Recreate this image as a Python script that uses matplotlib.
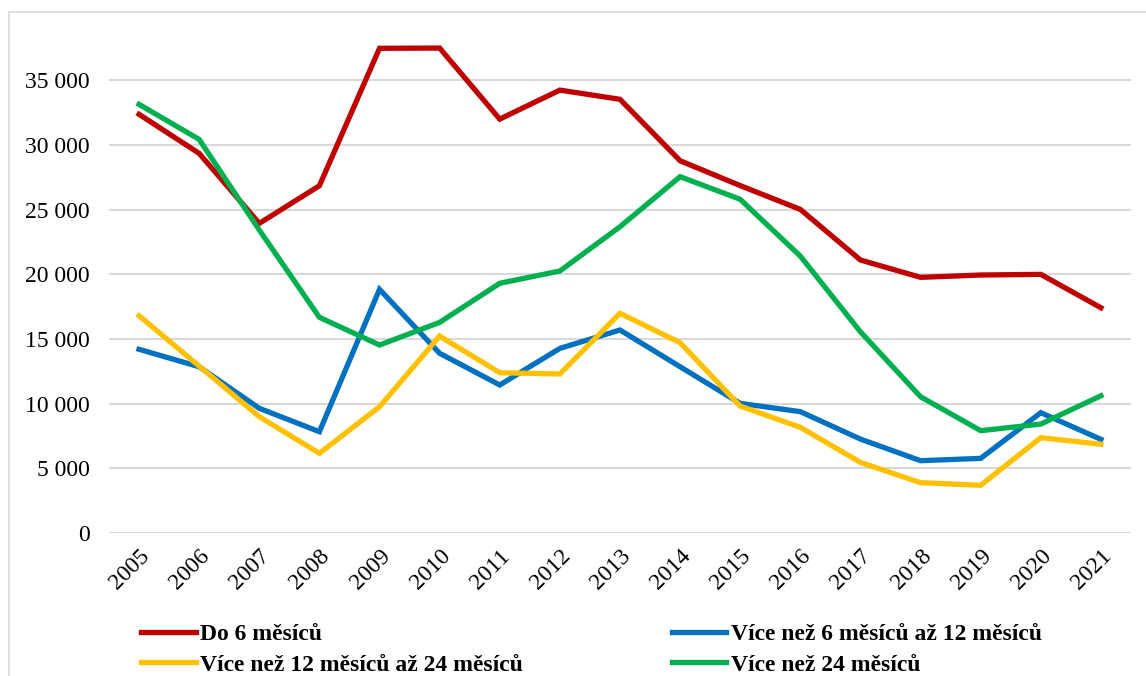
import matplotlib
matplotlib.use('Agg')
import matplotlib.pyplot as plt
from matplotlib.ticker import FuncFormatter
from matplotlib.patches import Rectangle
from matplotlib.transforms import ScaledTranslation

plt.rcParams['font.family'] = ['Liberation Serif', 'DejaVu Serif']

years = [str(y) for y in range(2005, 2022)]

do_6 = [32360, 29340, 23930, 26840, 37460, 37480, 31990, 34230, 33520,
        28770, 26850, 25010, 21100, 19760, 19940, 19990, 17410]
od_6_do_12 = [14200, 12850, 9640, 7830, 18830, 13890, 11440, 14270, 15690,
              12850, 10020, 9380, 7260, 5590, 5770, 9300, 7240]
od_12_do_24 = [16790, 12900, 8990, 6160, 9760, 15220, 12390, 12290, 16980,
               14710, 9810, 8170, 5460, 3890, 3690, 7370, 6860]
nad_24 = [33130, 30420, 23420, 16670, 14530, 16280, 19300, 20250, 23670,
          27540, 25790, 21400, 15550, 10530, 7910, 8420, 10610]

labels = ['Do 6 měsíců', 'Více než 6 měsíců až 12 měsíců',
          'Více než 12 měsíců až 24 měsíců', 'Více než 24 měsíců']
colors = ['#C00000', '#0070C0', '#FFC000', '#00B050']

fig = plt.figure(figsize=(11.46, 6.76), dpi=100)
ax = fig.add_axes([0.0951, 0.2115, 0.8918, 0.7465])

# light frame around the chart
fig.patches.append(Rectangle((0.0079, -0.1), 1.1, 1.0822, transform=fig.transFigure,
                             fill=False, edgecolor='#d9d9d9', linewidth=1.2))

x = range(len(years))
for series, lab, col in zip([do_6, od_6_do_12, od_12_do_24, nad_24], labels, colors):
    ax.plot(x, series, color=col, linewidth=3.8, label=lab, solid_joinstyle='miter')

ax.set_xlim(-0.5, len(years) - 0.5)
ax.set_ylim(0, 39000)
ax.set_yticks(range(0, 35001, 5000))
ax.yaxis.set_major_formatter(FuncFormatter(lambda v, p: f'{v:,.0f}'.replace(',', ' ')))
ax.set_xticks(list(x))
ax.set_xticklabels(years, rotation=45, ha='right', rotation_mode='anchor')
shift = ScaledTranslation(-7 / 72, 0, fig.dpi_scale_trans)
for t in ax.get_xticklabels():
    t.set_transform(t.get_transform() + shift)

ax.grid(axis='y', color='#d9d9d9', linewidth=1.5)
ax.set_axisbelow(True)
for s in ax.spines.values():
    s.set_visible(False)
ax.tick_params(axis='both', length=0, labelsize=17)
ax.tick_params(axis='y', pad=14)
ax.tick_params(axis='x', pad=9)

handles, labs = ax.get_legend_handles_labels()
order = [0, 2, 1, 3]
fig.legend([handles[i] for i in order], [labs[i] for i in order], ncol=2,
           loc='upper left', bbox_to_anchor=(0.115, 0.092), frameon=False,
           prop={'weight': 'bold', 'size': 17}, handlelength=2.3, handletextpad=0.2,
           columnspacing=6.3, labelspacing=0.4, borderaxespad=0)

fig.savefig('out.png', dpi=100)
